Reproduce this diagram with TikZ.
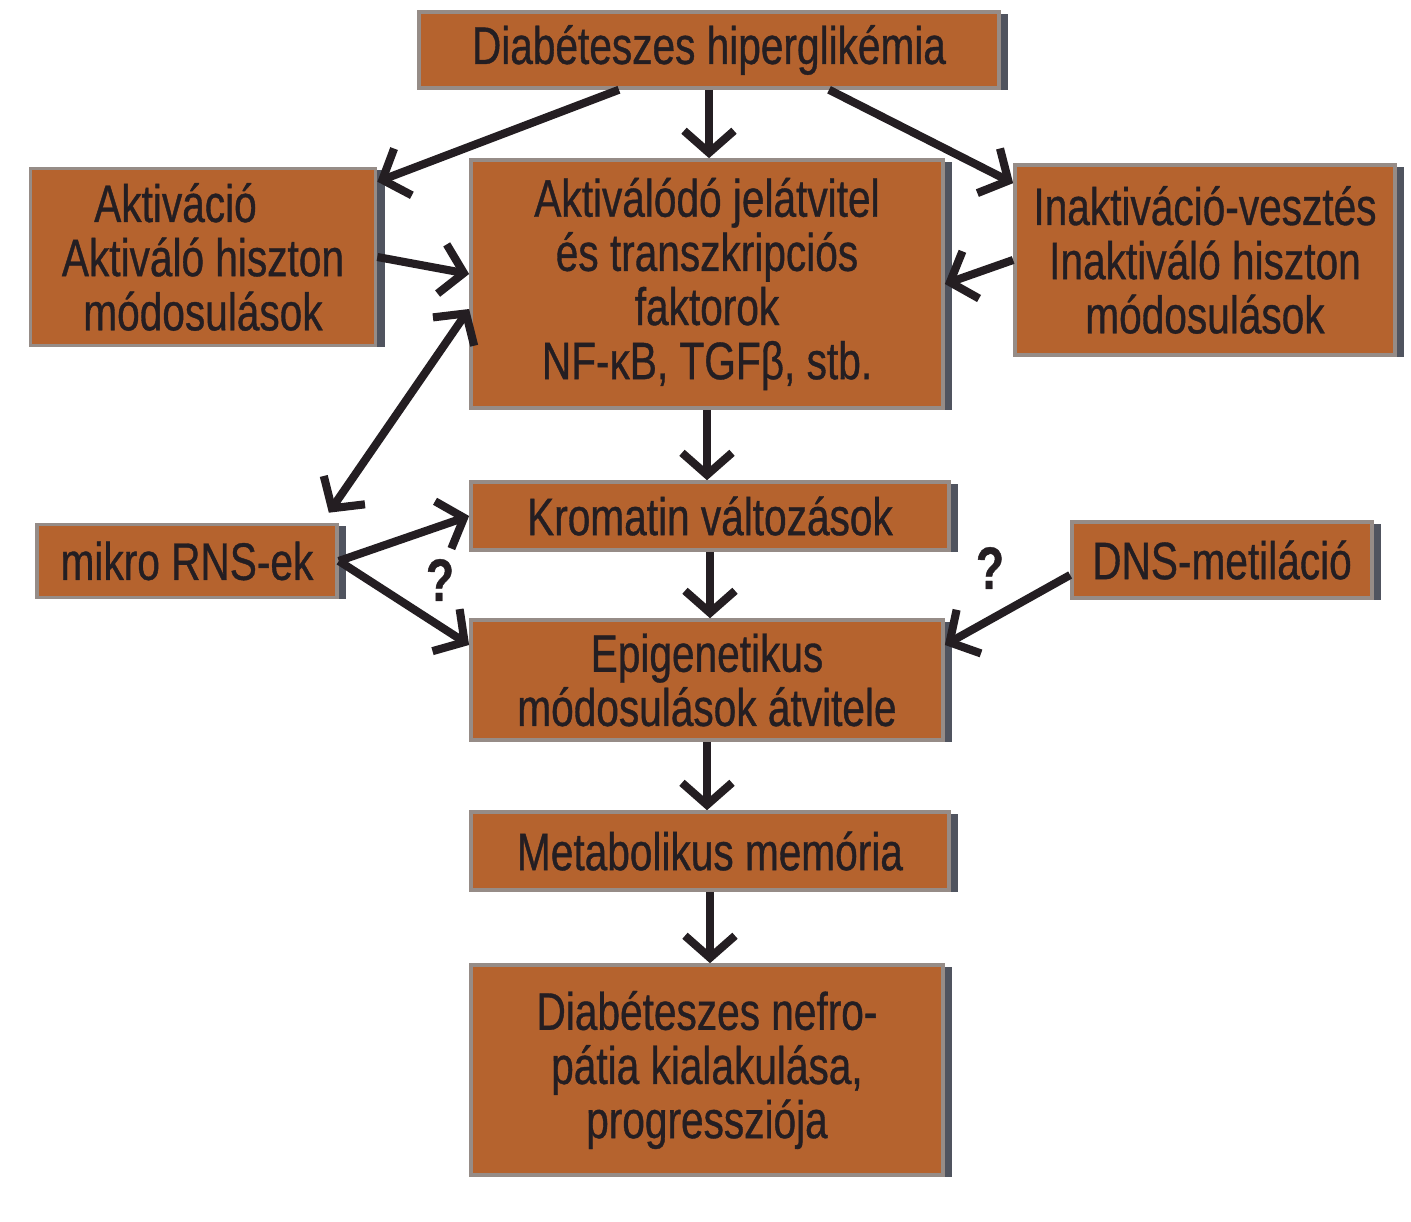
\documentclass[tikz,border=0pt]{standalone}
\usepackage{fontspec}
\setmainfont[FakeStretch=0.77,FakeBold=0.7]{Liberation Sans}
\usetikzlibrary{arrows.meta,shadows}
\definecolor{boxbrown}{RGB}{181,99,46}
\definecolor{boxedge}{RGB}{150,140,135}
\definecolor{shadowgrey}{RGB}{62,66,78}
\definecolor{inkdark}{RGB}{36,30,34}

\begin{document}
\begin{tikzpicture}[x=0.01cm,y=-0.01cm,
  box/.style={draw=boxedge,line width=1pt,fill=boxbrown,text=inkdark,align=center,
    font=\fontsize{15}{15.4}\selectfont,inner sep=0pt,
    drop shadow={shadow xshift=2.6pt,shadow yshift=-0.5pt,fill=shadowgrey,opacity=.9}},
  link/.style={line width=2.3pt,draw=inkdark,-{Straight Barb[length=2.2mm,width=5mm]}},
  twolink/.style={line width=2.3pt,draw=inkdark,{Straight Barb[length=2.2mm,width=5mm]}-{Straight Barb[length=2.2mm,width=5mm]}},
  qmark/.style={font=\bfseries\fontsize{17}{17}\selectfont,text=inkdark}]

\fill[white] (0,0) rectangle (1411,1222);
\useasboundingbox (0,0) rectangle (1411,1222);

% boxes
\node[box,minimum width=5.8cm,minimum height=0.76cm] (hyper) at (709,50) {Diabéteszes hiperglikémia};
\node[box,minimum width=3.45cm,minimum height=1.77cm] (act) at (203,257) {Aktiváció\hspace*{0.55cm}\\Aktiváló hiszton\\módosulások};
\node[box,minimum width=4.72cm,minimum height=2.48cm] (signal) at (707,284) {Aktiválódó jelátvitel\\és transzkripciós\\faktorok\\NF-κB, TGFβ, stb.};
\node[box,minimum width=3.8cm,minimum height=1.9cm] (inact) at (1205,260) {Inaktiváció-vesztés\\Inaktiváló hiszton\\módosulások};
\node[box,minimum width=4.78cm,minimum height=0.68cm] (chrom) at (710,516) {Kromatin változások};
\node[box,minimum width=3.0cm,minimum height=0.73cm] (mirna) at (187,561) {mikro RNS-ek};
\node[box,minimum width=3.0cm,minimum height=0.76cm] (dnsmet) at (1222,560) {DNS-metiláció};
\node[box,minimum width=4.72cm,minimum height=1.2cm] (epi) at (707,680) {Epigenetikus\\módosulások átvitele};
\node[box,minimum width=4.78cm,minimum height=0.78cm] (memory) at (710,851) {Metabolikus memória};
\node[box,minimum width=4.72cm,minimum height=2.1cm] (nephro) at (707,1070) {Diabéteszes nefro-\\pátia kialakulása,\\progressziója};

% question marks
\node[qmark] (q1) at (440,580) {?};
\node[qmark] (q2) at (990,568) {?};

% arrows
\draw[link] ([xshift=-0.9cm]hyper.south) -- ([yshift=-0.15cm]act.north east);
\draw[link] (hyper.south) -- (hyper.south |- signal.north);
\draw[link] ([xshift=1.2cm]hyper.south) -- ([yshift=-0.2cm]inact.north west);
\draw[link] (act.east) -- ([yshift=0.1cm]signal.west);
\draw[link] (inact.west) -- (signal.east);
\draw[twolink] ([yshift=-0.25cm]signal.west) -- ([xshift=-0.1cm,yshift=0.1cm]mirna.north east);
\draw[link] (signal.south) -- (signal.south |- chrom.north);
\draw[link] (mirna.east) -- (chrom.west);
\draw[link] (mirna.east) -- ([yshift=0.35cm]epi.west);
\draw[link] (chrom.south) -- (chrom.south |- epi.north);
\draw[link] ([yshift=-0.15cm]dnsmet.west) -- ([yshift=0.35cm]epi.east);
\draw[link] (epi.south) -- (epi.south |- memory.north);
\draw[link] (memory.south) -- (memory.south |- nephro.north);

\end{tikzpicture}
\end{document}
